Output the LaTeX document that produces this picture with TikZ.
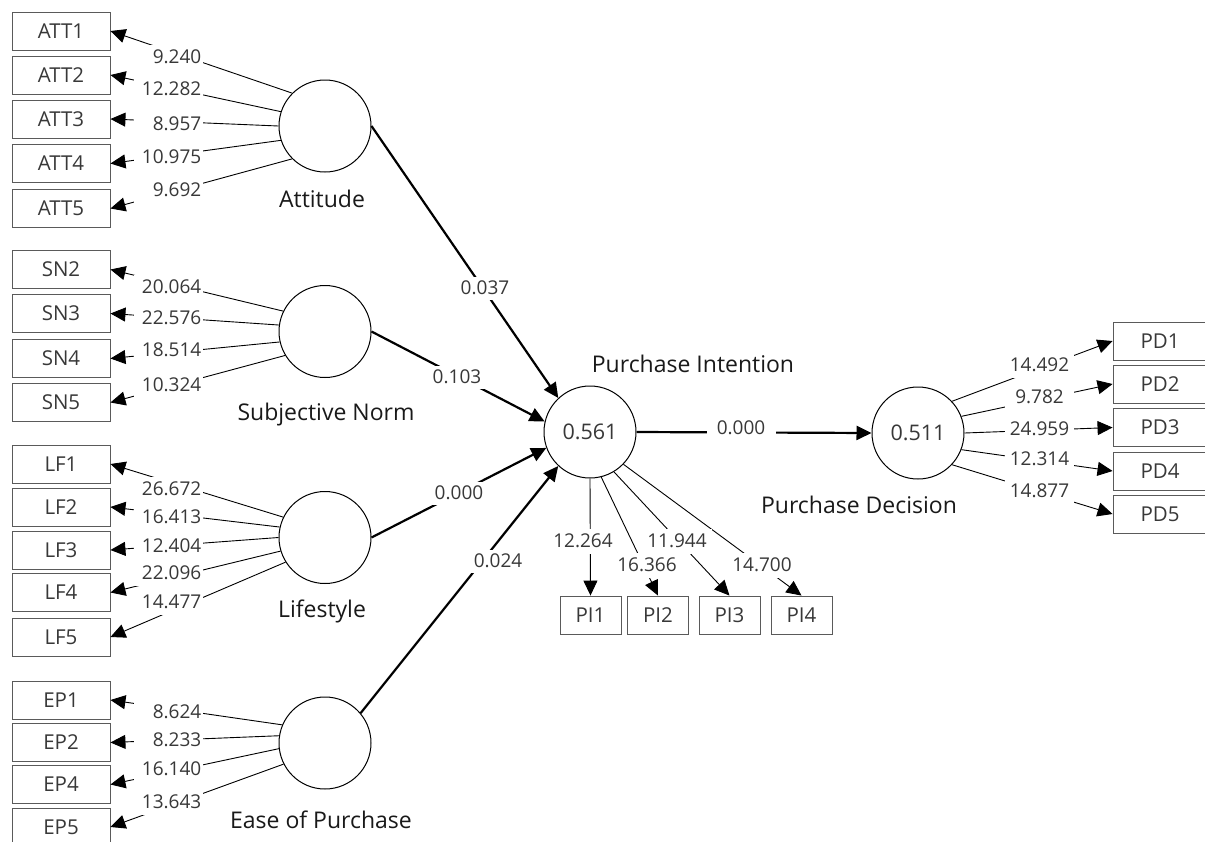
\documentclass[tikz,border=0pt]{standalone}
\usepackage{fontspec}
\setmainfont{Open Sans}
\usetikzlibrary{arrows.meta}
\definecolor{txt}{HTML}{383838}
\definecolor{boxc}{HTML}{5A5A5A}
\begin{document}
\begin{tikzpicture}[x=1pt,y=-1pt,
  ind/.style={draw=boxc, line width=0.9pt, minimum width=98pt, minimum height=38pt, inner sep=0pt,
    font=\fontsize{20.5}{20.5}\selectfont, text=txt, text height=14.6pt, text depth=0pt},
  lv/.style={circle, draw=black, line width=1pt, minimum size=92pt, inner sep=0pt, fill=white,
    font=\fontsize{21.5}{21.5}\selectfont, text=txt, text height=15.4pt, text depth=0pt},
  cname/.style={anchor=base, font=\fontsize{23}{23}\selectfont, text=black!90, inner sep=0pt},
  lbl/.style={fill=white, inner sep=0pt, minimum width=69pt, minimum height=25pt,
    font=\fontsize{19}{19}\selectfont, text=txt, text height=13.6pt, text depth=0pt},
  lblr/.style={lbl, anchor=east, text width=66pt, align=right, inner xsep=1pt},
  ld/.style={line width=0.9pt, -{Triangle[length=15pt,width=14pt]}},
  sd/.style={line width=2.2pt, -{Triangle[length=15pt,width=14pt]}}
]
\useasboundingbox (0,0) rectangle (1205,841);

% latent variables
\node[lv] (att) at (325,126) {};
\node[lv] (sn) at (325,331.5) {};
\node[lv] (lf) at (325,537.5) {};
\node[lv] (ep) at (325,743) {};
\node[lv] (pi) at (590,432) {0.561};
\node[lv] (pd) at (918,433) {0.511};

% construct names
\node[cname] (natt) at (322,207) {Attitude};
\node[cname] (nsn) at (326,420) {Subjective Norm};
\node[cname] (nlf) at (322,617) {Lifestyle};
\node[cname] (nep) at (321,828) {Ease of Purchase};
\node[cname] (npi) at (693,372) {Purchase Intention};
\node[cname] (npd) at (859,513) {Purchase Decision};

% indicators
\foreach \n/\y in {1/31,2/75,3/119,4/163.5,5/208.5}
  \node[ind] (att\n) at (61,\y) {ATT\n};
\foreach \n/\y in {2/269.5,3/313.5,4/358.5,5/402.5}
  \node[ind] (sn\n) at (61,\y) {SN\n};
\foreach \n/\y in {1/464,2/507,3/550,4/592.5,5/637}
  \node[ind] (lf\n) at (61,\y) {LF\n};
\foreach \n/\y in {1/700,2/742.5,4/784.5,5/827}
  \node[ind] (ep\n) at (61,\y) {EP\n};
\foreach \n/\y in {1/341,2/384,3/427.5,4/471,5/514}
  \node[ind, minimum width=94pt] (pd\n) at (1160,\y) {PD\n};
\foreach \n/\x in {1/590.5,2/658,3/729.5,4/801.5}
  \node[ind, minimum width=61pt] (pi\n) at (\x,615) {PI\n};

% outer loadings
\foreach \n/\a in {1/135,2/162,3/180,4/198,5/225}
  \draw[ld] (att.\a) -- (att\n.east);
\foreach \n/\a in {2/154,3/172,4/193,5/211}
  \draw[ld] (sn.\a) -- (sn\n.east);
\foreach \n/\a in {1/154,2/167,3/180,4/197.5,5/212.5}
  \draw[ld] (lf.\a) -- (lf\n.east);
\foreach \n/\a in {1/157,2/171,4/187,5/207}
  \draw[ld] (ep.\a) -- (ep\n.east);
\foreach \n/\a in {1/43,2/21,3/0,4/-21,5/-43}
  \draw[ld] (pd.\a) -- (pd\n.west);
\foreach \n/\a in {1/-90,2/-76,3/-59,4/-44}
  \draw[ld] (pi.\a) -- (pi\n.north);

% structural paths
\draw[sd] (att.0) -- (pi.133);
\draw[sd] (sn.0) -- (pi.167);
\draw[sd] (lf.0) -- (pi.200);
\draw[sd] (ep.40) -- (pi.227);
\draw[sd] (pi.0) -- (pd.180);

% loading labels
\foreach \n/\y/\v in {1/57/9.240,2/89/12.282,3/124/8.957,4/157/10.975,5/190/9.692}
  \node[lblr] (latt\n) at (203,\y) {\v};
\foreach \n/\y/\v in {2/287/20.064,3/318/22.576,4/350/18.514,5/385/10.324}
  \node[lblr] (lsn\n) at (203,\y) {\v};
\foreach \n/\y/\v in {1/489/26.672,2/517/16.413,3/546/12.404,4/573/22.096,5/602/14.477}
  \node[lblr] (llf\n) at (203,\y) {\v};
\foreach \n/\y/\v in {1/712/8.624,2/740/8.233,4/769/16.140,5/802/13.643}
  \node[lblr] (lep\n) at (203,\y) {\v};
\foreach \n/\y/\v in {1/365/14.492,2/397/9.782,3/429/24.959,4/459/12.314,5/491/14.877}
  \node[lbl] (lpd\n) at (1039.5,\y) {\v};
\node[lbl] (lpi1) at (583,541) {12.264};
\node[lbl] (lpi2) at (647,565) {16.366};
\node[lbl] (lpi3) at (677,541) {11.944};
\node[lbl] (lpi4) at (762,565) {14.700};

% path coefficients
\node[lbl, minimum height=23pt] (patt) at (485,288) {0.037};
\node[lbl, minimum height=23pt] (psn) at (457,377) {0.103};
\node[lbl, minimum height=23pt] (plf) at (459,493) {0.000};
\node[lbl, minimum height=23pt] (pep) at (498,561) {0.024};
\node[lbl, minimum height=23pt] (ppd) at (741,428) {0.000};
\end{tikzpicture}
\end{document}
